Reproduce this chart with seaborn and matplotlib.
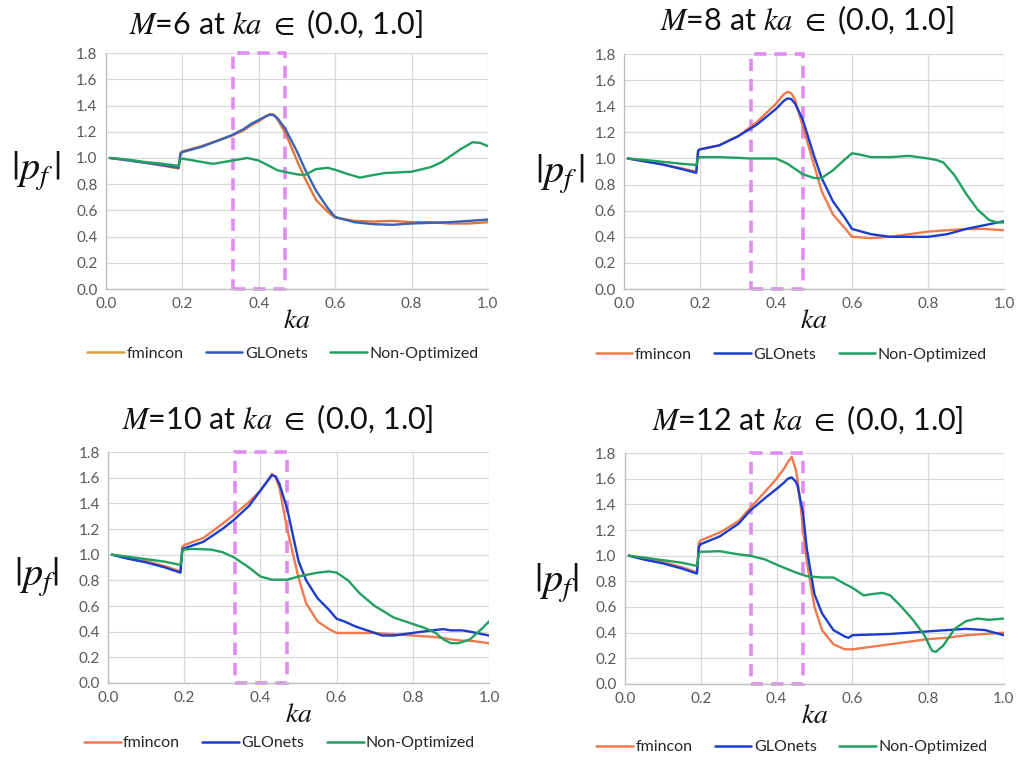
import numpy as np
import pandas as pd
import matplotlib
matplotlib.use("Agg")
import matplotlib.pyplot as plt
from matplotlib.patches import Rectangle
from matplotlib.lines import Line2D
import seaborn as sns

sns.set_theme(style="white")
plt.rcParams['font.family'] = ['Lato', 'DejaVu Sans']
plt.rcParams['mathtext.fontset'] = 'stix'

methods = ["fmincon", "GLOnets", "Non-Optimized"]

# ---------------- M = 6 ----------------
x6 = [0.01, 0.05, 0.1, 0.15, 0.19, 0.195, 0.2, 0.25, 0.3, 0.33, 0.36, 0.38, 0.4, 0.42, 0.43, 0.44,
      0.45, 0.47, 0.5, 0.52, 0.55, 0.58, 0.6, 0.65, 0.7, 0.75, 0.8, 0.85, 0.9, 0.95, 1.0]
y6_fm = [1.0, 0.985, 0.965, 0.94, 0.92, 1.04, 1.05, 1.09, 1.14, 1.17, 1.21, 1.25, 1.28, 1.32, 1.335, 1.33,
         1.29, 1.19, 0.98, 0.85, 0.68, 0.59, 0.545, 0.52, 0.515, 0.52, 0.51, 0.51, 0.50, 0.50, 0.51]
y6_gl = [1.0, 0.985, 0.965, 0.945, 0.925, 1.03, 1.045, 1.085, 1.14, 1.175, 1.22, 1.26, 1.29, 1.32, 1.33, 1.325,
         1.30, 1.22, 1.05, 0.92, 0.75, 0.62, 0.55, 0.51, 0.495, 0.49, 0.50, 0.505, 0.51, 0.52, 0.53]
x6_no = [0.01, 0.05, 0.1, 0.15, 0.19, 0.195, 0.2, 0.25, 0.28, 0.33, 0.37, 0.4, 0.45, 0.5, 0.52, 0.55,
         0.58, 0.6, 0.63, 0.665, 0.7, 0.73, 0.8, 0.85, 0.88, 0.9, 0.93, 0.96, 0.98, 1.0]
y6_no = [1.0, 0.99, 0.97, 0.955, 0.94, 0.99, 0.995, 0.97, 0.955, 0.98, 1.0, 0.98, 0.905, 0.875, 0.87, 0.915,
         0.925, 0.91, 0.88, 0.85, 0.87, 0.885, 0.895, 0.93, 0.97, 1.01, 1.07, 1.12, 1.115, 1.09]

# ---------------- M = 8 ----------------
x8 = [0.01, 0.05, 0.1, 0.15, 0.19, 0.195, 0.2, 0.25, 0.3, 0.35, 0.4, 0.42, 0.43, 0.44, 0.45, 0.47,
      0.5, 0.52, 0.55, 0.58, 0.6, 0.65, 0.7, 0.75, 0.8, 0.85, 0.9, 0.95, 1.0]
y8_fm = [1.0, 0.98, 0.955, 0.925, 0.90, 1.06, 1.07, 1.10, 1.17, 1.28, 1.42, 1.49, 1.51, 1.50, 1.45, 1.25,
         0.95, 0.75, 0.57, 0.47, 0.40, 0.39, 0.40, 0.42, 0.44, 0.45, 0.46, 0.46, 0.45]
y8_gl = [1.0, 0.98, 0.955, 0.92, 0.89, 1.06, 1.07, 1.10, 1.17, 1.26, 1.38, 1.44, 1.46, 1.455, 1.42, 1.30,
         1.02, 0.85, 0.67, 0.55, 0.46, 0.42, 0.40, 0.40, 0.40, 0.42, 0.46, 0.49, 0.52]
x8_no = [0.01, 0.05, 0.1, 0.15, 0.19, 0.195, 0.2, 0.25, 0.3, 0.33, 0.4, 0.43, 0.47, 0.5, 0.52, 0.55,
         0.58, 0.6, 0.62, 0.65, 0.7, 0.75, 0.8, 0.82, 0.84, 0.87, 0.9, 0.93, 0.96, 0.98, 1.0]
y8_no = [1.0, 0.99, 0.975, 0.96, 0.95, 1.0, 1.01, 1.01, 1.005, 1.0, 1.0, 0.96, 0.88, 0.85, 0.85, 0.91,
         0.99, 1.04, 1.03, 1.01, 1.01, 1.02, 1.0, 0.99, 0.97, 0.87, 0.73, 0.61, 0.53, 0.51, 0.51]

# ---------------- M = 10 ----------------
x10 = [0.01, 0.05, 0.1, 0.15, 0.19, 0.195, 0.2, 0.25, 0.3, 0.33, 0.37, 0.4, 0.42, 0.43, 0.44, 0.45, 0.47,
       0.5, 0.52, 0.55, 0.58, 0.6, 0.62, 0.65, 0.7, 0.72, 0.75, 0.8, 0.85, 0.88, 0.9, 0.93, 0.95, 1.0]
y10_fm = [1.0, 0.98, 0.95, 0.91, 0.87, 1.06, 1.075, 1.13, 1.24, 1.31, 1.41, 1.50, 1.58, 1.63, 1.60, 1.52, 1.20,
          0.82, 0.62, 0.48, 0.42, 0.39, 0.39, 0.39, 0.39, 0.385, 0.38, 0.37, 0.36, 0.35, 0.34, 0.33, 0.33, 0.31]
y10_gl = [1.0, 0.97, 0.94, 0.90, 0.86, 1.04, 1.05, 1.10, 1.20, 1.27, 1.38, 1.50, 1.58, 1.62, 1.61, 1.55, 1.36,
          0.95, 0.80, 0.66, 0.57, 0.50, 0.48, 0.44, 0.39, 0.37, 0.37, 0.39, 0.41, 0.42, 0.41, 0.41, 0.40, 0.37]
x10_no = [0.01, 0.05, 0.1, 0.15, 0.19, 0.195, 0.2, 0.22, 0.27, 0.3, 0.33, 0.37, 0.4, 0.43, 0.47, 0.5,
          0.55, 0.58, 0.6, 0.63, 0.66, 0.7, 0.75, 0.8, 0.83, 0.86, 0.88, 0.9, 0.92, 0.95, 0.98, 1.0]
y10_no = [1.0, 0.985, 0.965, 0.945, 0.92, 1.03, 1.04, 1.045, 1.04, 1.02, 0.98, 0.90, 0.83, 0.805, 0.805, 0.83,
          0.86, 0.87, 0.86, 0.80, 0.70, 0.60, 0.51, 0.46, 0.43, 0.39, 0.34, 0.31, 0.31, 0.34, 0.42, 0.48]

# ---------------- M = 12 ----------------
x12 = [0.01, 0.05, 0.1, 0.15, 0.19, 0.195, 0.2, 0.25, 0.3, 0.33, 0.37, 0.4, 0.42, 0.43, 0.44, 0.45, 0.455,
       0.465, 0.47, 0.48, 0.5, 0.52, 0.55, 0.58, 0.59, 0.6, 0.65, 0.7, 0.8, 0.85, 0.9, 0.95, 1.0]
y12_fm = [1.0, 0.98, 0.95, 0.91, 0.87, 1.10, 1.12, 1.18, 1.27, 1.37, 1.50, 1.60, 1.68, 1.73, 1.77, 1.68, 1.60,
          1.35, 1.20, 0.95, 0.60, 0.42, 0.31, 0.27, 0.27, 0.27, 0.29, 0.31, 0.35, 0.36, 0.38, 0.39, 0.40]
y12_gl = [1.0, 0.97, 0.94, 0.90, 0.86, 1.07, 1.09, 1.15, 1.25, 1.35, 1.45, 1.52, 1.57, 1.60, 1.61, 1.58, 1.55,
          1.40, 1.33, 1.05, 0.70, 0.55, 0.42, 0.37, 0.36, 0.38, 0.385, 0.39, 0.41, 0.42, 0.43, 0.42, 0.38]
x12_no = [0.01, 0.05, 0.1, 0.15, 0.19, 0.195, 0.2, 0.25, 0.3, 0.33, 0.37, 0.4, 0.45, 0.48, 0.52, 0.55,
          0.58, 0.6, 0.63, 0.65, 0.68, 0.7, 0.73, 0.76, 0.79, 0.81, 0.82, 0.84, 0.87, 0.9, 0.93, 0.96, 1.0]
y12_no = [1.0, 0.985, 0.965, 0.945, 0.92, 1.02, 1.03, 1.035, 1.01, 1.0, 0.97, 0.93, 0.87, 0.84, 0.83, 0.83,
          0.78, 0.75, 0.69, 0.70, 0.71, 0.69, 0.60, 0.50, 0.38, 0.26, 0.25, 0.30, 0.43, 0.49, 0.51, 0.50, 0.51]

x_ticks = [0.0, 0.2, 0.4, 0.6, 0.8, 1.0]
y_ticks = [0.0, 0.2, 0.4, 0.6, 0.8, 1.0, 1.2, 1.4, 1.6, 1.8]

panels = [
    dict(M=6, fm=(x6, y6_fm), gl=(x6, y6_gl), no=(x6_no, y6_no)),
    dict(M=8, fm=(x8, y8_fm), gl=(x8, y8_gl), no=(x8_no, y8_no)),
    dict(M=10, fm=(x10, y10_fm), gl=(x10, y10_gl), no=(x10_no, y10_no)),
    dict(M=12, fm=(x12, y12_fm), gl=(x12, y12_gl), no=(x12_no, y12_no)),
]

# layout (figure fractions) and text placements per panel
ax_rects = [
    [0.1038, 0.6202, 0.3741, 0.3100],
    [0.6112, 0.6202, 0.3722, 0.3088],
    [0.1058, 0.1025, 0.3732, 0.3035],
    [0.6121, 0.1012, 0.3712, 0.3035],
]
title_pos = [(0.445, 1.12), (0.48, 1.145), (0.446, 1.139), (0.483, 1.143)]
ylab_pos = [(-0.183, 0.50), (-0.168, 0.49), (-0.186, 0.46), (-0.18, 0.437)]
ylab_txt = [r"$|p_f\,|$", r"$|p_f\,|$", r"$|p_f|$", r"$|p_f|$"]
leg_pos = [(0.463, -0.275), (0.44, -0.28), (0.45, -0.26), (0.44, -0.273)]

palettes = [
    {"fmincon": "#E0773A", "GLOnets": "#3A62B6", "Non-Optimized": "#22A062"},
    {"fmincon": "#F07A4E", "GLOnets": "#1C3DCC", "Non-Optimized": "#22A062"},
    {"fmincon": "#F07A4E", "GLOnets": "#1C3DCC", "Non-Optimized": "#22A062"},
    {"fmincon": "#F07A4E", "GLOnets": "#1C3DCC", "Non-Optimized": "#22A062"},
]
legend_colors = [
    {"fmincon": "#D9A04A", "GLOnets": "#2F55B5", "Non-Optimized": "#22A062"},
    palettes[1], palettes[2], palettes[3],
]
rect_x0, rect_x1 = 0.333, 0.470
rect_color = "#E08CF0"

fig = plt.figure(figsize=(10.21, 7.61), dpi=100)
fig.patch.set_facecolor("white")

for i, p in enumerate(panels):
    ax = fig.add_axes(ax_rects[i])
    frames = []
    for key, name in zip(["fm", "gl", "no"], methods):
        xs, ys = p[key]
        frames.append(pd.DataFrame({"ka": xs, "pf": ys, "Method": name}))
    df = pd.concat(frames, ignore_index=True)

    ax.add_patch(Rectangle((rect_x0, 0.0), rect_x1 - rect_x0, 1.8, fill=False,
                           ec=rect_color, lw=2.6, ls=(0, (3.4, 2.2)), zorder=1.8, clip_on=False))

    sns.lineplot(data=df, x="ka", y="pf", hue="Method", hue_order=methods,
                 palette=palettes[i], estimator=None, sort=False, lw=1.7, ax=ax,
                 legend=False, zorder=2.5)

    ax.set_xlim(0, 1.0)
    ax.set_ylim(0, 1.8)
    ax.set_xticks(x_ticks)
    ax.set_yticks(y_ticks)
    ax.set_xticklabels([f"{v:.1f}" for v in x_ticks])
    ax.set_yticklabels([f"{v:.1f}" for v in y_ticks])
    ax.tick_params(axis="both", length=0, labelsize=11, colors="#595959", pad=6)
    ax.grid(True, color="#D9D9D9", lw=0.9)
    ax.set_axisbelow(True)
    for s in ["top", "right"]:
        ax.spines[s].set_visible(False)
    for s in ["left", "bottom"]:
        ax.spines[s].set_color("#BFBFBF")
        ax.spines[s].set_linewidth(1.0)

    ax.set_xlabel(r"$ka$", fontsize=20, labelpad=-3, color="#111111")
    ax.set_ylabel(ylab_txt[i], fontsize=29, rotation=0, ha="center", va="center", color="#111111")
    ax.yaxis.set_label_coords(*ylab_pos[i])

    tx, ty = title_pos[i]
    ax.text(tx, ty, r"$M$=%d at $ka$ $\in$ (0.0, 1.0]" % p["M"], transform=ax.transAxes,
            ha="center", va="center", fontsize=22, color="#111111")

    handles = [Line2D([], [], color=legend_colors[i][m], lw=1.8) for m in methods]
    ax.legend(handles, methods, loc="center", bbox_to_anchor=leg_pos[i], ncol=3, frameon=False,
              fontsize=11.5, handlelength=2.3, handletextpad=0.15, columnspacing=1.4)

fig.savefig("out.png", dpi=100, facecolor="white")
